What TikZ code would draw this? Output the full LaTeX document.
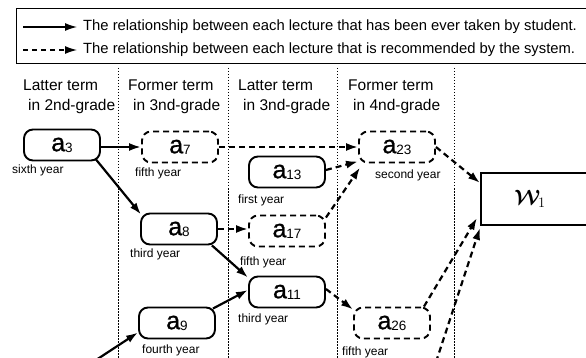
\documentclass[tikz,border=0pt]{standalone}
\usepackage{amsmath}
\usepackage{fontspec}
\setmainfont{Liberation Sans}
\usetikzlibrary{arrows.meta,calc}
\newcommand{\lecname}[1]{{\addfontfeature{FakeBold=1}a}\raisebox{-1pt}{\fontsize{13.5}{13.5}\selectfont #1}}
\begin{document}
\begin{tikzpicture}[x=1pt,y=-1pt,
  lec/.style={draw, line width=1.9pt, rounded corners=9pt, minimum width=76pt, minimum height=31pt, inner sep=0pt, font=\fontsize{25}{25}\selectfont},
  rec/.style={lec, dash pattern=on 6pt off 4pt},
  yr/.style={anchor=west, inner sep=0pt, font=\fontsize{12}{12}\selectfont},
  hdr/.style={anchor=west, align=left, inner sep=0pt, font=\fontsize{15.5}{20}\selectfont},
  leg/.style={anchor=west, inner sep=0pt, font=\fontsize{14.8}{16}\selectfont},
  sol/.style={line width=2.2pt, -{Latex[length=12pt,width=8pt]}},
  rcm/.style={sol, dash pattern=on 6pt off 4pt},
  legsol/.style={line width=1.3pt, -{Latex[length=12pt,width=8pt]}},
  legrcm/.style={legsol, dash pattern=on 5pt off 4pt},
  col/.style={line width=1pt, dash pattern=on 1.5pt off 1.5pt},
]
\clip (0,0) rectangle (586,358);
\fill[white] (0,0) rectangle (586,358);
% legend
\draw[line width=1pt] (16,9) rectangle (600,64);
\node[leg] (lt1) at (83,27) {The relationship between each lecture that has been ever taken by student.};
\node[leg] (lt2) at (83,50) {The relationship between each lecture that is recommended by the system.};
\coordinate (la1) at (23,27);
\coordinate (la2) at (23,50);
\draw[legsol] (la1) -- ($(lt1.west)+(-6,0)$);
\draw[legrcm] (la2) -- ($(lt2.west)+(-6,0)$);
% columns
\draw[col] (118,68) -- (118,358);
\draw[col] (228,68) -- (228,358);
\draw[col] (337,68) -- (337,358);
\draw[col] (454,68) -- (454,358);
% headers
\node[hdr] (h1) at (23,97) {Latter term\\\hspace*{5pt}in 2nd-grade};
\node[hdr] (h2) at (128,97) {Former term\\\hspace*{5pt}in 3nd-grade};
\node[hdr] (h3) at (238,97) {Latter term\\\hspace*{5pt}in 3nd-grade};
\node[hdr] (h4) at (348,97) {Former term\\\hspace*{5pt}in 4nd-grade};
% lectures
\node[lec] (a3) at (62,145) {\lecname{3}};
\node[rec] (a7) at (180,147) {\lecname{7}};
\node[lec] (a13) at (287,172) {\lecname{13}};
\node[rec] (a17) at (287,231) {\lecname{17}};
\node[lec] (a8) at (179,229) {\lecname{8}};
\node[lec] (a11) at (287,292) {\lecname{11}};
\node[lec] (a9) at (177,323) {\lecname{9}};
\node[rec] (a23) at (397,147) {\lecname{23}};
\node[rec] (a26) at (392,323) {\lecname{26}};
% years
\node[yr] (y3) at (12,170) {sixth year};
\node[yr] (y7) at (135,173) {fifth year};
\node[yr] (y13) at (238,200) {first year};
\node[yr] (y8) at (130,254) {third year};
\node[yr] (y17) at (240,262) {fifth year};
\node[yr] (y11) at (238,319) {third year};
\node[yr] (y9) at (142,350) {fourth year};
\node[yr] (y23) at (375,175) {second year};
\node[yr] (y26) at (342,352) {fifth year};
% W1
\node[draw, line width=1.9pt, minimum width=140pt, minimum height=52pt, anchor=north west] (w1) at (480,172) {};
\node[inner sep=0pt, font=\fontsize{22}{22}\selectfont] (w1t) at (530,199) {$\boldsymbol{\mathcal{W}}_{\!1}$};
% taken connectors
\draw[sol] (a3.east |- a7.west) -- (a7.west);
\draw[sol] ($(a3.south east)+(-5,-2)$) -- ($(a8.north west)+(1,2)$);
\draw[sol] ($(a8.south east)+(-6,0)$) -- ($(a11.north west)+(0,2)$);
\draw[sol] ($(a9.north east)+(-3,2)$) -- ($(a11.west)+(0,-2)$);
\coordinate (s9) at (93,362);
\draw[sol] (s9) -- ($(a9.south west)+(0,-7)$);
% recommended connectors
\draw[rcm] (a7.east) -- (a7.east -| a23.west);
\draw[rcm] ($(a13.east)+(0,-2)$) -- ($(a23.south west)+(0,-2)$);
\draw[rcm] ($(a17.north east)+(0,3)$) -- ($(a23.south west)+(2,4)$);
\draw[rcm] (a8.east) -- (a8.east -| a17.west);
\draw[rcm] ($(a11.east)+(0,-3)$) -- ($(a26.north west)+(0,3)$);
\draw[rcm] (a23.east) -- ($(w1.north west)+(0,11)$);
\draw[rcm] ($(a26.north east)+(-7,0)$) -- ($(w1.south west)+(-3,-8)$);
\coordinate (s26) at (436,362);
\draw[rcm] (s26) -- ($(w1.south west)+(0,2)$);
\end{tikzpicture}
\end{document}
